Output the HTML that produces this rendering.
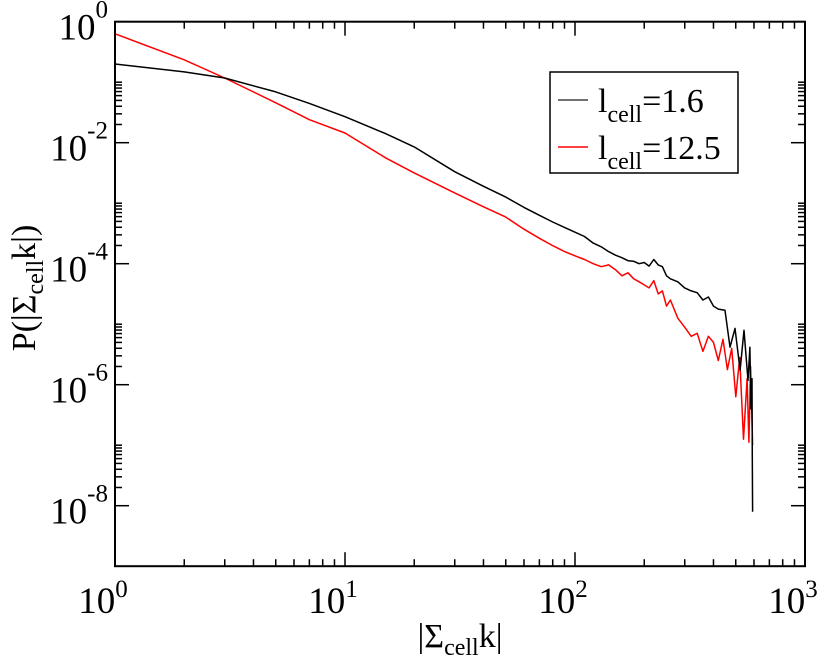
<!DOCTYPE html>
<html><head><meta charset="utf-8"><style>
body{margin:0;background:#fff}
svg{display:block;font-family:"Liberation Serif",serif}
</style></head><body>
<svg id="chart" width="830" height="663" viewBox="0 0 830 663" xmlns="http://www.w3.org/2000/svg" font-family="Liberation Serif, serif">
<g id="ticks"></g>
<g id="series"></g>
<rect x="115" y="21.7" width="690" height="544.5" fill="none" stroke="#000" stroke-width="2"/>
<g id="labels"></g>
<text x="460" y="647" font-size="34" text-anchor="middle">|Σ<tspan font-size="24" dy="8">cell</tspan><tspan dy="-8">k|</tspan></text>
<text transform="translate(35,288) rotate(-90)" font-size="34" text-anchor="middle">P(|Σ<tspan font-size="24" dy="8">cell</tspan><tspan dy="-8">k|)</tspan></text>
<g>
<rect x="550" y="72" width="188" height="101" fill="#fff" stroke="#000" stroke-width="1.5"/>
<line x1="558" y1="100" x2="588" y2="100" stroke="#444" stroke-width="1.5"/>
<text x="598" y="112" font-size="34">l<tspan font-size="24" dy="10">cell</tspan><tspan dy="-10">=1.6</tspan></text>
<line x1="558" y1="147" x2="588" y2="147" stroke="#f00" stroke-width="1.5"/>
<text x="598" y="159" font-size="34">l<tspan font-size="24" dy="10">cell</tspan><tspan dy="-10">=12.5</tspan></text>
</g>
</svg>
<script>
const blackX=[1,2,3,5,7,10,15,20,30,40,50,60,70,80,90,100,110,120,130,140,150,160,170,180,190,200,210,220,230,240,250,260,280,300,320,340,360,380,400,420,449,472,496,522,543,565,576,582,588,590,592];
const blackLogY=[-0.70,-0.83,-0.93,-1.16,-1.35,-1.57,-1.85,-2.07,-2.48,-2.72,-2.90,-3.07,-3.20,-3.31,-3.40,-3.48,-3.55,-3.66,-3.72,-3.80,-3.86,-3.90,-3.95,-3.96,-4.00,-3.98,-4.04,-3.93,-4.02,-4.05,-4.20,-4.25,-4.30,-4.40,-4.45,-4.48,-4.60,-4.55,-4.70,-4.75,-4.77,-5.38,-5.07,-5.76,-5.10,-5.93,-5.38,-6.40,-5.90,-7.2,-8.1];
const redX=[1,2,3,5,7,10,15,20,30,40,50,60,70,80,90,100,110,120,130,140,150,160,170,180,190,200,210,220,230,240,250,260,280,300,320,340,360,380,400,420,440,460,480,500,520,540,560,570,580,588,592];
const redLogY=[-0.20,-0.63,-0.93,-1.34,-1.62,-1.84,-2.25,-2.50,-2.83,-3.06,-3.23,-3.43,-3.58,-3.70,-3.80,-3.87,-3.93,-4.00,-4.05,-4.02,-4.10,-4.20,-4.15,-4.25,-4.30,-4.35,-4.40,-4.28,-4.50,-4.45,-4.70,-4.60,-4.90,-5.05,-5.20,-5.15,-5.45,-5.20,-5.30,-5.60,-5.25,-5.75,-5.40,-6.20,-5.55,-6.90,-5.90,-6.95,-5.70,-6.60,-7.0];
const xTickLabels=["0","1","2","3"];
const yTickLabels=["0","-2","-4","-6","-8"];
const NS="http://www.w3.org/2000/svg";
const X0=115,X1=805,Y0=21.7,Y1=566.2;
const xs=v=>X0+(Math.log10(v)-0)/3*(X1-X0);
const ys=l=>Y0+(0-l)/9*(Y1-Y0);
function mk(t,a,p){const e=document.createElementNS(NS,t);for(const k in a)e.setAttribute(k,a[k]);p.appendChild(e);return e;}
const tk=document.getElementById('ticks'),lb=document.getElementById('labels'),sg=document.getElementById('series');
for(let d=0;d<3;d++){for(let m=1;m<10;m++){const x=xs(m*Math.pow(10,d));const L=m==1?14:7;
 const a=mk('line',{x1:x,y1:Y1,x2:x,y2:Y1-L,stroke:'#000','stroke-width':1.5},tk);
 
 
 const b=mk('line',{x1:x,y1:Y0,x2:x,y2:Y0+L,stroke:'#000','stroke-width':1.5},tk);
 
 }}
xTickLabels.forEach((s,i)=>{const t=mk('text',{x:xs(Math.pow(10,i))-12,y:613,'font-size':37,'text-anchor':'middle'},lb);
 
 
 t.textContent='10';const sp=mk('tspan',{'font-size':25,dy:-16},t);sp.textContent=s;});
yTickLabels.forEach((s,i)=>{const e=-2*i;const y=ys(e);
 for(const [xa,dir] of [[X0,1],[X1,-1]]){const l=mk('line',{x1:xa,y1:y,x2:xa+dir*14,y2:y,stroke:'#000','stroke-width':1.5},tk);
  
  
  if(e<0){for(let m=2;m<=10;m++){const yy=ys(e+Math.log10(m));const q=mk('line',{x1:xa,y1:yy,x2:xa+dir*7,y2:yy,stroke:'#000','stroke-width':1.5},tk);
   
   }}}
 const t=mk('text',{x:108,y:y+18,'font-size':37,'text-anchor':'end'},lb);
 
 
 t.textContent='10';const sp=mk('tspan',{'font-size':25,dy:-22},t);sp.textContent=s;});
function line(X,L,c,name){const d=X.map((v,i)=>(i?'L':'M')+xs(v).toFixed(1)+','+ys(L[i]).toFixed(1)).join('');
 const p=mk('path',{d:d,fill:'none',stroke:c,'stroke-width':1.5,'stroke-linejoin':'round'},sg);
 
 }
line(redX,redLogY,'#f00','series-lcell-12-5');
line(blackX,blackLogY,'#000','series-lcell-1-6');
</script>
</body></html>
